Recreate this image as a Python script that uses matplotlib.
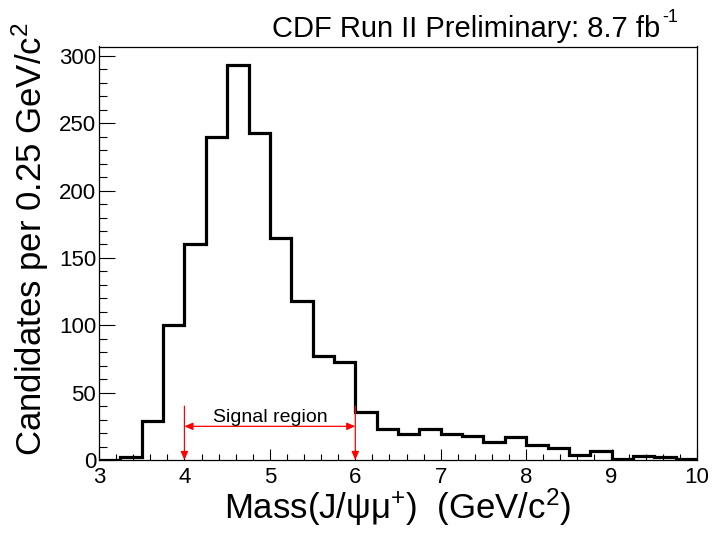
import numpy as np
import matplotlib
matplotlib.use('Agg')
import matplotlib.pyplot as plt
from matplotlib.ticker import MultipleLocator

plt.rcParams['font.family'] = ['Liberation Sans', 'DejaVu Sans']
plt.rcParams['mathtext.fontset'] = 'custom'
plt.rcParams['mathtext.rm'] = 'Liberation Sans'
plt.rcParams['mathtext.it'] = 'Liberation Sans'
plt.rcParams['mathtext.bf'] = 'Liberation Sans'
plt.rcParams['mathtext.sf'] = 'Liberation Sans'
plt.rcParams['mathtext.default'] = 'regular'

# histogram of J/psi mu candidates, 0.25 GeV/c^2 bins from 3 to 10
bin_edges = np.arange(3.0, 10.0001, 0.25)
counts = [0, 2, 29, 100, 160, 240, 293, 243, 165, 118, 77, 73,
          36, 23, 19, 23, 19, 18, 13, 17, 11, 9, 4, 7,
          1, 3, 2, 1]

signal_lo, signal_hi = 4.0, 6.0
x_ticks = [3, 4, 5, 6, 7, 8, 9, 10]
y_ticks = [0, 50, 100, 150, 200, 250, 300]

fig = plt.figure(figsize=(7.13, 5.34), dpi=100)
ax = fig.add_axes([99/713, 1 - 460/534, 598/713, 413.5/534])

ax.stairs(counts, bin_edges, color='black', linewidth=2.3, baseline=0)

ax.set_xlim(3, 10)
ax.set_ylim(0, 307)
ax.set_xticks(x_ticks)
ax.set_yticks(y_ticks)
ax.xaxis.set_minor_locator(MultipleLocator(0.2))
ax.yaxis.set_minor_locator(MultipleLocator(10))
ax.tick_params(axis='both', which='both', direction='in', top=False, right=False,
               labelsize=16, width=0.8, colors='black')
ax.tick_params(axis='x', which='major', length=8, pad=5)
ax.tick_params(axis='x', which='minor', length=4)
ax.tick_params(axis='y', which='major', length=11.5, pad=2)
ax.tick_params(axis='y', which='minor', length=5.8)
for s in ax.spines.values():
    s.set_linewidth(0.9)

ax.set_xlabel('Mass(J/ψμ$^{+}$)  (GeV/c$^{2}$)', fontsize=25)
ax.set_ylabel('Candidates per 0.25 GeV/c$^{2}$', fontsize=25)
ax.xaxis.set_label_coords(0.5, -0.065)
ax.yaxis.set_label_coords(-0.08, 0.535)

# title with a small raised "-1"
fig.text(660/713, 1 - 37/534, 'CDF Run II Preliminary: 8.7 fb',
         fontsize=21, ha='right', va='baseline')
fig.text(662/713, 1 - 22/534, '-1', fontsize=13, ha='left', va='baseline')

# signal region markers
red = '#ff0000'
for xv in (signal_lo, signal_hi):
    ax.annotate('', xy=(xv, 0), xytext=(xv, 40),
                arrowprops=dict(arrowstyle='-|>,head_length=0.5,head_width=0.22',
                                color=red, lw=0.9, shrinkA=0, shrinkB=0))
ax.annotate('', xy=(signal_lo, 25), xytext=(signal_hi, 25),
            arrowprops=dict(arrowstyle='<|-|>,head_length=0.5,head_width=0.22',
                            color=red, lw=0.9, shrinkA=0, shrinkB=0))
ax.text((signal_lo + signal_hi) / 2, 28.5, 'Signal region', fontsize=14,
        ha='center', va='baseline')

fig.savefig('out.png', dpi=100)
